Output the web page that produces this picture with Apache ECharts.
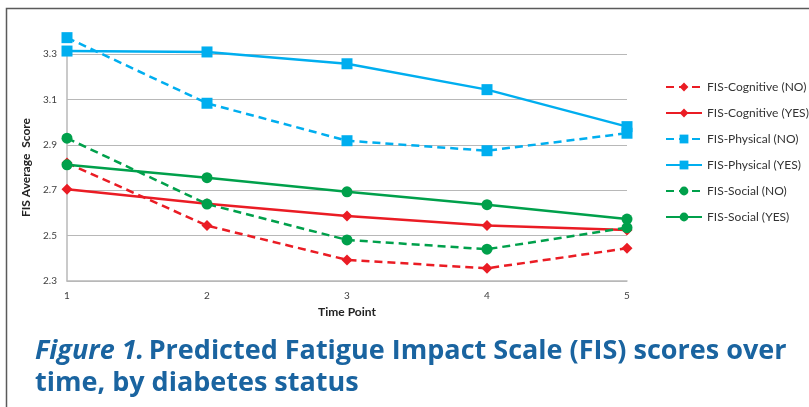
<!DOCTYPE html>
<html>
<head>
<meta charset="utf-8">
<script src="https://cdn.jsdelivr.net/npm/echarts@6/dist/echarts.min.js"></script>
<style>
  html, body { margin: 0; padding: 0; background: #fff; }
  #chart { width: 809px; height: 407px; }
</style>
</head>
<body>
<div id="chart"></div>
<script>
// time points on the x axis
var timePoints = ['1', '2', '3', '4', '5'];

// predicted FIS scores
var cognitiveNo  = [2.82, 2.544, 2.393, 2.356, 2.444];
var cognitiveYes = [2.704, 2.64, 2.586, 2.544, 2.525];
var physicalNo   = [3.372, 3.083, 2.918, 2.874, 2.951];
var physicalYes  = [3.313, 3.309, 3.257, 3.143, 2.98];
var socialNo     = [2.929, 2.639, 2.481, 2.44, 2.535];
var socialYes    = [2.812, 2.755, 2.693, 2.636, 2.573];

var RED = '#ea1c24', BLUE = '#00aeef', GREEN = '#00a04b';

function makeSeries(name, data, color, symbol, size, dashed) {
    return {
        name: name,
        type: 'line',
        data: data,
        symbol: symbol,
        symbolSize: size,
        clip: false,
        lineStyle: { color: color, width: 2.5, type: dashed ? [8, 5] : 'solid' },
        itemStyle: { color: color },
        emphasis: { disabled: true }
    };
}

var chart = echarts.init(document.getElementById('chart'));

chart.setOption({
    animation: false,
    textStyle: { fontFamily: 'Lato' },
    graphic: [{
        type: 'rect',
        shape: { x: 6.5, y: 8.5, width: 830, height: 430 },
        style: { fill: 'none', stroke: '#5a5a5a', lineWidth: 1.5 },
        silent: true
    }],
    title: {
        left: 30,
        top: 330,
        text: '{i|Figure 1.} {b|Predicted Fatigue Impact Scale (FIS) scores over}\n{b|time, by diabetes status}',
        textStyle: {
            rich: {
                i: { fontFamily: 'Open Sans', fontSize: 27, fontWeight: 'bold', fontStyle: 'italic', color: '#1a64a0', lineHeight: 32 },
                b: { fontFamily: 'Open Sans', fontSize: 27, fontWeight: 'bold', color: '#1a64a0', lineHeight: 32 }
            }
        }
    },
    legend: {
        orient: 'vertical',
        left: 660,
        top: 76,
        itemWidth: 36,
        itemHeight: 11,
        itemGap: 14,
        textStyle: { fontFamily: 'Lato', fontSize: 12, color: '#333' },
        data: ['FIS-Cognitive (NO)', 'FIS-Cognitive (YES)', 'FIS-Physical (NO)',
               'FIS-Physical (YES)', 'FIS-Social (NO)', 'FIS-Social (YES)']
    },
    grid: { left: 67, right: 182, top: 54, bottom: 126 },
    xAxis: {
        type: 'category',
        data: timePoints,
        boundaryGap: false,
        name: 'Time Point',
        nameLocation: 'middle',
        nameGap: 25,
        nameTextStyle: { fontSize: 12, fontWeight: 'bold', color: '#222' },
        axisLine: { lineStyle: { color: '#b8b8b8', width: 1.5 } },
        axisTick: { show: false },
        axisLabel: { fontSize: 10, color: '#404040', margin: 10 }
    },
    yAxis: {
        type: 'value',
        min: 2.3,
        max: 3.3,
        interval: 0.2,
        name: 'FIS Average  Score',
        nameLocation: 'middle',
        nameGap: 32,
        nameTextStyle: { fontSize: 12, fontWeight: 'bold', color: '#222' },
        axisLine: { show: true, lineStyle: { color: '#b8b8b8', width: 1.5 } },
        axisTick: { show: false },
        axisLabel: { fontSize: 10, color: '#404040', margin: 10, formatter: function (v) { return v.toFixed(1); } },
        splitLine: { lineStyle: { color: '#b8b8b8', width: 1.2 } }
    },
    series: [
        makeSeries('FIS-Cognitive (NO)', cognitiveNo, RED, 'diamond', 11, true),
        makeSeries('FIS-Cognitive (YES)', cognitiveYes, RED, 'diamond', 11, false),
        makeSeries('FIS-Physical (NO)', physicalNo, BLUE, 'rect', 11, true),
        makeSeries('FIS-Physical (YES)', physicalYes, BLUE, 'rect', 11, false),
        makeSeries('FIS-Social (NO)', socialNo, GREEN, 'circle', 11, true),
        makeSeries('FIS-Social (YES)', socialYes, GREEN, 'circle', 11, false)
    ]
});
</script>
</body>
</html>
